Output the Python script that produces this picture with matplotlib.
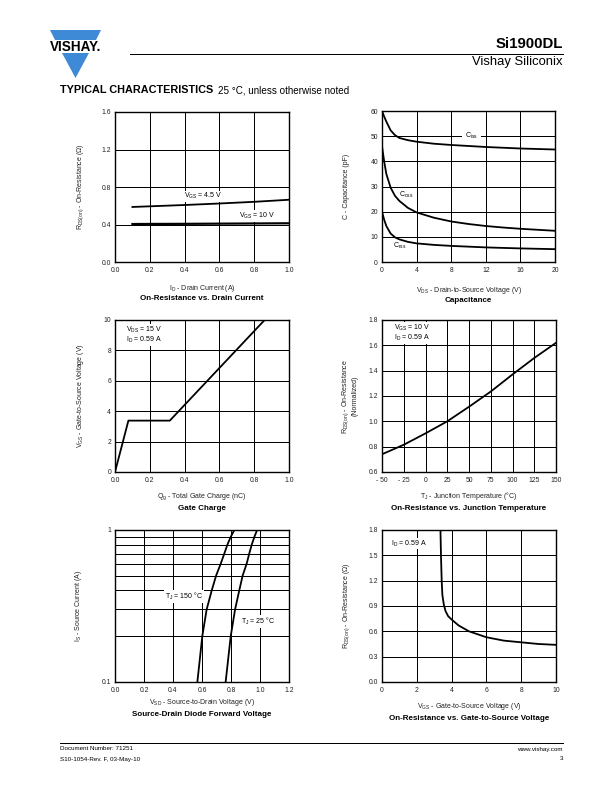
import matplotlib
matplotlib.use('Agg')
import matplotlib.pyplot as plt
from matplotlib.patches import Polygon
import numpy as np

plt.rcParams.update({
    'font.family': ['Liberation Sans', 'DejaVu Sans'],
    'mathtext.default': 'regular',
    'font.size': 7,
})

# ---- data ----
# On-Resistance vs. Drain Current
id_a = [0.1, 0.2, 0.4, 0.6, 0.8, 1.0]
rds_vgs45 = [0.587, 0.594, 0.608, 0.624, 0.642, 0.664]
rds_vgs10 = [0.405, 0.406, 0.407, 0.409, 0.411, 0.413]

# Capacitance
vds = [0, 0.25, 0.5, 1, 1.5, 2, 3, 4, 6, 8, 10, 12, 14, 16, 18, 20]
c_iss = [60, 57.8, 55.8, 52.3, 50.4, 49.3, 48.4, 47.8, 47.0, 46.5, 46.1, 45.7, 45.4, 45.1, 44.9, 44.7]
c_oss = [46, 40, 35, 29.5, 26.3, 24.3, 21.5, 19.7, 17.6, 16.1, 15.1, 14.3, 13.7, 13.2, 12.8, 12.4]
c_rss = [20, 16.8, 14.3, 11.3, 9.8, 9.0, 8.0, 7.4, 6.8, 6.4, 6.1, 5.8, 5.6, 5.4, 5.25, 5.1]

# Gate Charge
qg = [0.0, 0.077, 0.315, 0.86]
vgs_qg = [0.0, 3.38, 3.38, 10.0]

# On-Resistance vs. Junction Temperature
tj = [-50, -25, 0, 25, 50, 75, 100, 125, 150]
rds_norm = [0.74, 0.815, 0.905, 1.0, 1.115, 1.235, 1.37, 1.50, 1.62]

# Source-Drain Diode Forward Voltage
i_s = [0.1, 0.2, 0.3, 0.4, 0.5, 0.6, 0.7, 0.8, 0.9, 1.0]
vsd_150 = [0.568, 0.602, 0.632, 0.667, 0.697, 0.729, 0.754, 0.775, 0.798, 0.823]
vsd_25 = [0.763, 0.798, 0.828, 0.857, 0.880, 0.908, 0.926, 0.943, 0.961, 0.980]

# On-Resistance vs. Gate-to-Source Voltage
vgs = [3.36, 3.39, 3.43, 3.47, 3.55, 3.65, 3.8, 4.0, 4.4, 5.0, 6.0, 7.0, 8.0, 9.0, 10.0]
rds_vgs = [1.8, 1.5, 1.2, 1.03, 0.92, 0.84, 0.78, 0.74, 0.67, 0.60, 0.53, 0.49, 0.47, 0.45, 0.44]

W, H = 612, 792
fig = plt.figure(figsize=(8.5, 11), dpi=72)

# page layer in pixel coordinates
bg = fig.add_axes([0, 0, 1, 1])
bg.set_xlim(0, W)
bg.set_ylim(H, 0)
bg.axis('off')

# Vishay logo
blue = '#3f8ad6'
bg.add_patch(Polygon([(50, 30), (101, 30), (96, 40), (55, 40)], closed=True, color=blue, lw=0))
bg.add_patch(Polygon([(62, 53), (89, 53), (75.5, 78)], closed=True, color=blue, lw=0))
bg.text(75.5, 47, 'VISHAY.', ha='center', va='center', fontsize=13.5, fontweight='bold',
        color='black')

# header
bg.plot([130, 563], [53.5, 53.5], color='black', lw=1.0)
bg.text(563, 51, 'Si1900DL', ha='right', va='bottom', fontsize=15, fontweight='bold')
bg.text(563, 62, 'Vishay Siliconix', ha='right', va='center', fontsize=13)
bg.text(60, 90, 'TYPICAL CHARACTERISTICS', ha='left', va='center', fontsize=10.9,
        fontweight='bold')
bg.text(218, 90.5, '25 °C, unless otherwise noted', ha='left', va='center', fontsize=9.9)

# footer
bg.plot([60, 563], [743, 743], color='black', lw=1.0)
bg.text(60, 749, 'Document Number: 71251', ha='left', va='center', fontsize=6.3)
bg.text(60, 759, 'S10-1054-Rev. F, 03-May-10', ha='left', va='center', fontsize=6.3)
bg.text(563, 749, 'www.vishay.com', ha='right', va='center', fontsize=6.3)
bg.text(563, 759, '3', ha='right', va='center', fontsize=6.3)

txt = '#222222'
fs_tick = 6.8
fs_lab = 7
fs_note = 7


def panel(x0, y0, x1, y1):
    ax = fig.add_axes([x0 / W, 1 - y1 / H, (x1 - x0) / W, (y1 - y0) / H])
    ax.grid(True, which='major', color='black', lw=1.0)
    ax.set_axisbelow(True)
    ax.tick_params(length=0, labelsize=fs_tick, labelcolor=txt, pad=4)
    ax.tick_params(axis='x', pad=5)
    for s in ax.spines.values():
        s.set_linewidth(1.4)
    return ax


def labels(x0, x1, y0, y1, xlab, title, xlab_y, title_y, ylab, ylab_x):
    xc = (x0 + x1) / 2
    bg.text(xc, xlab_y, xlab, ha='center', va='center', fontsize=fs_lab, color=txt)
    bg.text(xc, title_y, title, ha='center', va='center', fontsize=8, fontweight='bold')
    bg.text(ylab_x, (y0 + y1) / 2, ylab, ha='center', va='center', rotation=90,
            fontsize=fs_lab, color=txt, multialignment='center', linespacing=1.1)


box = dict(facecolor='white', edgecolor='none', pad=0.6)
lw_curve = 1.8

# ---- (1) On-Resistance vs. Drain Current ----
ax1 = panel(115, 112, 289, 262)
ax1.plot(id_a, rds_vgs45, color='black', lw=lw_curve)
ax1.plot(id_a, rds_vgs10, color='black', lw=lw_curve + 0.4)
ax1.set_xlim(0, 1.0)
ax1.set_ylim(0, 1.6)
ax1.set_xticks(np.arange(0, 1.01, 0.2))
ax1.set_yticks(np.arange(0, 1.61, 0.4))
ax1.xaxis.set_major_formatter('{x:.1f}')
ax1.yaxis.set_major_formatter('{x:.1f}')
ax1.text(0.395, 0.70, 'V$_{GS}$ = 4.5 V', fontsize=fs_note, va='center', bbox=box)
ax1.text(0.715, 0.49, 'V$_{GS}$ = 10 V', fontsize=fs_note, va='center', bbox=box)
labels(115, 289, 112, 262, 'I$_D$ - Drain Current (A)', 'On-Resistance vs. Drain Current',
       289, 299, 'R$_{DS(on)}$ - On-Resistance (Ω)', 81)

# ---- (2) Capacitance ----
ax2 = panel(382, 111, 555, 262)
for c in (c_iss, c_oss, c_rss):
    ax2.plot(vds, c, color='black', lw=lw_curve)
ax2.set_xlim(0, 20)
ax2.set_ylim(0, 60)
ax2.set_xticks(np.arange(0, 21, 4))
ax2.set_yticks(np.arange(0, 61, 10))
ax2.text(10.3, 50, 'C$_{iss}$', fontsize=fs_note, ha='center', va='center',
         bbox=dict(facecolor='white', edgecolor='none', pad=3))
ax2.text(2.0, 26.5, 'C$_{oss}$', fontsize=fs_note, va='center')
ax2.text(1.3, 6.2, 'C$_{rss}$', fontsize=fs_note, va='center')
labels(382, 555, 111, 262, 'V$_{DS}$ - Drain-to-Source Voltage (V)', 'Capacitance',
       290, 301, 'C - Capacitance (pF)', 346)

# ---- (3) Gate Charge ----
ax3 = panel(115, 320, 289, 472)
ax3.plot(qg, vgs_qg, color='black', lw=lw_curve)
ax3.set_xlim(0, 1.0)
ax3.set_ylim(0, 10)
ax3.set_xticks(np.arange(0, 1.01, 0.2))
ax3.set_yticks(np.arange(0, 11, 2))
ax3.xaxis.set_major_formatter('{x:.1f}')
ax3.text(0.065, 9.7, 'V$_{DS}$ = 15 V\nI$_D$ = 0.59 A', fontsize=fs_note, va='top',
         linespacing=1.0, bbox=box)
labels(115, 289, 320, 472, 'Q$_g$ - Total Gate Charge (nC)', 'Gate Charge',
       497, 508, 'V$_{GS}$ - Gate-to-Source Voltage (V)', 81)

# ---- (4) On-Resistance vs. Junction Temperature ----
ax4 = panel(382, 320, 556, 472)
ax4.plot(tj, rds_norm, color='black', lw=lw_curve)
ax4.set_xlim(-50, 150)
ax4.set_ylim(0.6, 1.8)
ax4.set_xticks(np.arange(-50, 151, 25))
ax4.set_xticklabels(['- 50', '- 25', '0', '25', '50', '75', '100', '125', '150'])
ax4.set_yticks(np.arange(0.6, 1.81, 0.2))
ax4.yaxis.set_major_formatter('{x:.1f}')
ax4.text(-36, 1.78, 'V$_{GS}$ = 10 V\nI$_D$ = 0.59 A', fontsize=fs_note, va='top',
         linespacing=1.0, bbox=box)
labels(382, 556, 320, 472, 'T$_J$ - Junction Temperature (°C)',
       'On-Resistance vs. Junction Temperature', 496, 508,
       'R$_{DS(on)}$ - On-Resistance\n(Normalized)', 349)

# ---- (5) Source-Drain Diode Forward Voltage ----
ax5 = panel(115, 530, 289, 682)
ax5.set_yscale('log')
ax5.plot(vsd_150, i_s, color='black', lw=lw_curve)
ax5.plot(vsd_25, i_s, color='black', lw=lw_curve)
ax5.set_xlim(0, 1.2)
ax5.set_ylim(0.1, 1)
ax5.set_xticks(np.arange(0, 1.21, 0.2))
ax5.xaxis.set_major_formatter('{x:.1f}')
ax5.set_yticks([0.1, 1])
ax5.set_yticklabels(['0.1', '1'])
ax5.set_yticks(np.arange(0.2, 0.95, 0.1), minor=True)
ax5.yaxis.set_minor_formatter(matplotlib.ticker.NullFormatter())
ax5.tick_params(which='minor', length=0)
ax5.grid(True, which='minor', axis='y', color='black', lw=1.0)
ax5.text(0.345, 0.365, 'T$_J$ = 150 °C', fontsize=fs_note, va='center', bbox=box)
ax5.text(0.87, 0.25, 'T$_J$ = 25 °C', fontsize=fs_note, va='center', bbox=box)
labels(115, 289, 530, 682, 'V$_{SD}$ - Source-to-Drain Voltage (V)',
       'Source-Drain Diode Forward Voltage', 703, 715, 'I$_S$ - Source Current (A)', 79)

# ---- (6) On-Resistance vs. Gate-to-Source Voltage ----
ax6 = panel(382, 530, 556, 682)
ax6.plot(vgs, rds_vgs, color='black', lw=lw_curve)
ax6.set_xlim(0, 10)
ax6.set_ylim(0, 1.8)
ax6.set_xticks(np.arange(0, 11, 2))
ax6.set_yticks(np.arange(0, 1.81, 0.3))
ax6.yaxis.set_major_formatter('{x:.1f}')
ax6.text(0.5, 1.64, 'I$_D$ = 0.59 A', fontsize=fs_note, va='center', bbox=box)
labels(382, 556, 530, 682, 'V$_{GS}$ - Gate-to-Source Voltage (V)',
       'On-Resistance vs. Gate-to-Source Voltage', 706, 718,
       'R$_{DS(on)}$ - On-Resistance (Ω)', 347)

fig.savefig('out.png', dpi=72)
